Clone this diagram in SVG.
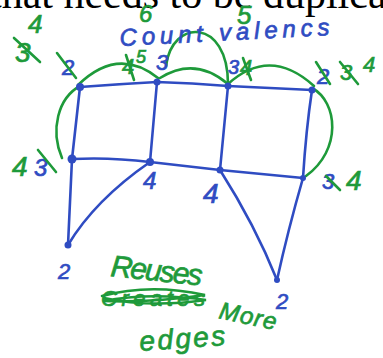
<svg xmlns="http://www.w3.org/2000/svg" width="383" height="358" viewBox="0 0 383 358">
<style>
.b{stroke:#2f4cc2;stroke-width:2.6;fill:none;stroke-linecap:round;stroke-linejoin:round}
.g{stroke:#1e9a3a;stroke-width:2.6;fill:none;stroke-linecap:round}
.dot{fill:#2f4cc2}
.tb{fill:#2f4cc2;stroke:#2f4cc2;stroke-width:0.7;font-family:"Liberation Sans",Arial,sans-serif;font-style:italic}
.tg{fill:#1e9a3a;stroke:#1e9a3a;stroke-width:0.7;font-family:"Liberation Sans",Arial,sans-serif;font-style:italic}
.hd{fill:#000;font-family:"Liberation Serif","Times New Roman",serif;font-size:42px}
</style>
<rect width="383" height="358" fill="#fff"/>
<text class="hd" x="-10" y="8">that needs to be duplicated</text>

<g id="connectors">
<path class="b" d="M80,87 Q120,84 157,82 Q192,83 228,86 Q270,88 312,90"/>
<path class="b" d="M72,159 Q110,157 150,162 Q185,166 220,170 Q262,174 303,178"/>
<path class="b" d="M80,87 L72,159"/>
<path class="b" d="M157,82 L150,162"/>
<path class="b" d="M228,86 L220,170"/>
<path class="b" d="M312,90 Q306,130 303,178"/>
<path class="b" d="M72,159 Q70,200 68,245"/>
<path class="b" d="M150,162 Q95,200 68,245"/>
<path class="b" d="M220,170 Q255,225 277,280"/>
<path class="b" d="M303,178 Q288,230 277,280"/>
<path class="g" d="M78,85 Q118,46 158,78"/>
<path class="g" d="M160,78 Q195,56 228,84"/>
<path class="g" d="M166,66 C172,18 228,18 228,84"/>
<path class="g" d="M228,84 Q270,46 314,86"/>
<path class="g" d="M80,86 C58,98 50,130 62,158"/>
<path class="g" d="M312,88 C338,102 342,150 306,176"/>
</g>

<g id="n1"><circle class="dot" cx="80" cy="87" r="4"/><text class="tb" x="62" y="75" font-size="22">2</text><path class="g" d="M57,53 L76,78"/></g>
<g id="n2"><circle class="dot" cx="157" cy="82" r="3.5"/><text class="tb" x="156" y="70" font-size="22">3</text><text class="tg" x="122" y="74" font-size="22">4</text><text class="tg" x="136" y="63" font-size="18">5</text><path class="g" d="M126,55 L134,80"/></g>
<g id="n3"><circle class="dot" cx="228" cy="86" r="3.5"/><text class="tb" x="228" y="74" font-size="20">3</text><text class="tg" x="240" y="75" font-size="22">4</text><path class="g" d="M243,58 L251,80"/></g>
<g id="n4"><circle class="dot" cx="312" cy="90" r="3.5"/><text class="tb" x="317" y="84" font-size="22">2</text><path class="g" d="M316,62 L330,84"/><text class="tg" x="340" y="80" font-size="22">3</text><path class="g" d="M340,62 L358,84"/><text class="tg" x="363" y="72" font-size="22">4</text></g>
<g id="n5"><circle class="dot" cx="72" cy="159" r="4.5"/><text class="tb" x="34" y="176" font-size="24">3</text><path class="g" d="M38,150 L56,172"/><text class="tg" x="12" y="176" font-size="28">4</text></g>
<g id="n6"><circle class="dot" cx="150" cy="162" r="4"/><text class="tb" x="143" y="189" font-size="24">4</text></g>
<g id="n7"><circle class="dot" cx="220" cy="170" r="3.5"/><text class="tb" x="203" y="203" font-size="28">4</text></g>
<g id="n8"><circle class="dot" cx="303" cy="178" r="3"/><text class="tb" x="322" y="189" font-size="22">3</text><path class="g" d="M326,176 L340,190"/><text class="tg" x="346" y="190" font-size="28">4</text></g>
<g id="n9"><circle class="dot" cx="68" cy="245" r="3.5"/><text class="tb" x="58" y="279" font-size="22">2</text></g>
<g id="n10"><circle class="dot" cx="277" cy="280" r="3"/><text class="tb" x="276" y="309" font-size="22">2</text></g>

<g id="notes">
<text class="tg" x="15" y="62" font-size="28">3</text><path class="g" d="M14,38 L40,62"/>
<text class="tg" x="28" y="33" font-size="26">4</text>
<text class="tg" x="139" y="22" font-size="24">6</text>
<text class="tg" x="237" y="24" font-size="26">5</text>
<text class="tb" x="120" y="46" font-size="24" textLength="210" transform="rotate(-3 120 46)">Count valencs</text>
<text class="tg" x="110" y="276" font-size="30" textLength="92" transform="rotate(6 110 276)">Reuses</text>
<text class="tg" x="101" y="306" font-size="22" textLength="104">Creates</text>
<path class="g" d="M102,296 Q150,283 205,295 Q150,303 103,301 Q150,292 206,300 Q150,308 104,298" stroke-width="3"/>
<text class="tg" x="218" y="318" font-size="24" textLength="58" transform="rotate(12 218 318)">More</text>
<text class="tg" x="140" y="351" font-size="28" textLength="86" transform="rotate(-4 140 351)">edges</text>
</g>
</svg>
